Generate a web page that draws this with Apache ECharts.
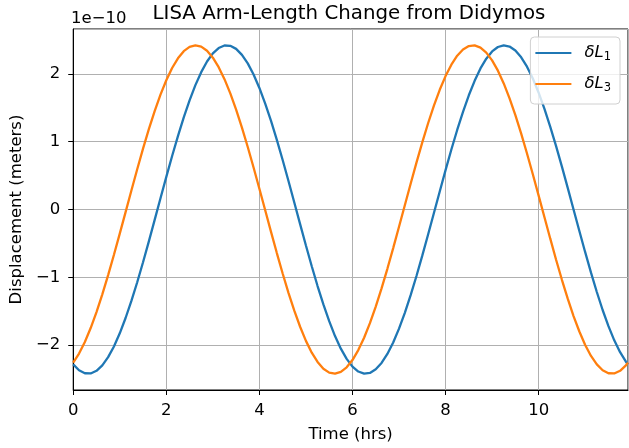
<!DOCTYPE html>
<html><head><meta charset="utf-8">
<script src="https://cdn.jsdelivr.net/npm/echarts@6/dist/echarts.min.js"></script>
<style>html,body{margin:0;padding:0;background:#fff}#c{width:629px;height:448px}</style>
</head><body><div id="c"></div>
<script>
// time in hours
const times = [0,0.125,0.25,0.375,0.5,0.625,0.75,0.875,1,1.125,1.25,1.375,1.5,1.625,1.75,1.875,2,2.125,2.25,2.375,2.5,2.625,2.75,2.875,3,3.125,3.25,3.375,3.5,3.625,3.75,3.875,4,4.125,4.25,4.375,4.5,4.625,4.75,4.875,5,5.125,5.25,5.375,5.5,5.625,5.75,5.875,6,6.125,6.25,6.375,6.5,6.625,6.75,6.875,7,7.125,7.25,7.375,7.5,7.625,7.75,7.875,8,8.125,8.25,8.375,8.5,8.625,8.75,8.875,9,9.125,9.25,9.375,9.5,9.625,9.75,9.875,10,10.125,10.25,10.375,10.5,10.625,10.75,10.875,11,11.125,11.25,11.375,11.5,11.625,11.75,11.875,11.92];
// displacement in units of 1e-10 m
const dL1 = [-2.283,-2.369,-2.413,-2.416,-2.377,-2.296,-2.176,-2.018,-1.825,-1.599,-1.347,-1.072,-0.777,-0.469,-0.153,0.165,0.481,0.788,1.082,1.358,1.609,1.833,2.024,2.181,2.300,2.379,2.417,2.412,2.367,2.279,2.153,1.989,1.791,1.561,1.305,1.026,0.729,0.419,0.103,-0.216,-0.531,-0.836,-1.128,-1.399,-1.646,-1.865,-2.051,-2.202,-2.315,-2.388,-2.419,-2.408,-2.355,-2.262,-2.129,-1.960,-1.756,-1.522,-1.262,-0.980,-0.680,-0.369,-0.052,0.266,0.580,0.884,1.172,1.440,1.683,1.896,2.079,2.223,2.329,2.395,2.420,2.402,2.343,2.243,2.105,1.930,1.721,1.483,1.218,0.933,0.632,0.319,0.001,-0.317,-0.629,-0.931,-1.216,-1.481,-1.719,-1.928,-2.103,-2.243,-2.283];
const dL3 = [-2.257,-2.123,-1.952,-1.747,-1.512,-1.250,-0.967,-0.667,-0.356,-0.038,0.280,0.593,0.897,1.184,1.451,1.693,1.905,2.085,2.228,2.333,2.397,2.420,2.401,2.340,2.238,2.098,1.921,1.711,1.473,1.207,0.921,0.619,0.306,-0.012,-0.330,-0.642,-0.943,-1.228,-1.491,-1.728,-1.936,-2.110,-2.247,-2.346,-2.404,-2.420,-2.394,-2.326,-2.219,-2.072,-1.890,-1.675,-1.431,-1.162,-0.874,-0.569,-0.255,0.063,0.380,0.691,0.990,1.271,1.531,1.764,1.966,2.134,2.266,2.358,2.409,2.418,2.386,2.312,2.198,2.046,1.858,1.638,1.390,1.118,0.826,0.520,0.205,-0.114,-0.430,-0.740,-1.036,-1.314,-1.570,-1.798,-1.996,-2.158,-2.283,-2.369,-2.413,-2.416,-2.377,-2.296,-2.257];
const xTicks = [0,2,4,6,8,10];
const yTicks = [-2,-1,0,1,2];

const FONT = 'DejaVu Sans';
const chart = echarts.init(document.getElementById('c'), null, {renderer:'canvas'});
const fmt = v => (v < 0 ? '\u2212' + Math.abs(v) : String(v));
chart.setOption({
  animation: false,
  backgroundColor: '#fff',
  title: {
    text: 'LISA Arm-Length Change from Didymos',
    left: 349, top: 4, padding: 0, textAlign: 'center',
    textStyle: {fontFamily: FONT, fontSize: 19.8, fontWeight: 'normal', color: '#000'}
  },
  graphic: [{
    type: 'text', left: 71, top: 10,
    style: {text: '1e\u221210', font: '16.5px "DejaVu Sans"', fill: '#000'}
  }],
  legend: {
    orient: 'vertical', right: 9, top: 37,
    icon: 'rect', itemWidth: 36, itemHeight: 2, itemGap: 12,
    padding: [7, 9, 10, 5],
    backgroundColor: 'rgba(255,255,255,0.8)', borderColor: '#d0d0d0', borderWidth: 1, borderRadius: 4,
    formatter: name => name === 'dL1' ? '{a|δL}{b|1}' : '{a|δL}{b|3}',
    textStyle: {
      fontFamily: FONT, color: '#000', padding: [0, 0, 0, 8],
      rich: {
        a: {fontFamily: FONT, fontStyle: 'italic', fontSize: 16.5, lineHeight: 20, color: '#000'},
        b: {fontFamily: FONT, fontSize: 11.5, lineHeight: 20, color: '#000', verticalAlign: 'bottom', padding: [7, 0, 0, 0]}
      }
    },
    data: ['dL1', 'dL3']
  },
  grid: {left: 71, right: 1, top: 29, bottom: 57, show: true, borderColor: '#000', borderWidth: 1, containLabel: false},
  xAxis: {
    type: 'value', min: 0, max: 11.92, interval: 2,
    name: 'Time (hrs)', nameLocation: 'middle', nameGap: 36,
    nameTextStyle: {fontFamily: FONT, fontSize: 16.5, color: '#000'},
    axisLine: {show: true, onZero: false, lineStyle: {color: '#000', width: 1}},
    axisTick: {show: true, inside: false, length: 5, lineStyle: {color: '#000'}},
    axisLabel: {fontFamily: FONT, fontSize: 16.5, color: '#000', margin: 12, showMaxLabel: false,
      formatter: v => xTicks.includes(v) ? fmt(v) : ''},
    splitLine: {show: true, lineStyle: {color: '#b0b0b0', width: 1}}
  },
  yAxis: {
    type: 'value', min: -2.66, max: 2.66, splitNumber: 5,
    name: 'Displacement (meters)', nameLocation: 'middle', nameGap: 48,
    nameTextStyle: {fontFamily: FONT, fontSize: 16.5, color: '#000'},
    axisLine: {show: true, onZero: false, lineStyle: {color: '#000', width: 1}},
    axisTick: {show: true, inside: false, length: 5, lineStyle: {color: '#000'}},
    axisLabel: {fontFamily: FONT, fontSize: 16.5, color: '#000', margin: 13, showMinLabel: false, showMaxLabel: false,
      formatter: v => yTicks.includes(v) ? fmt(v) : ''},
    splitLine: {show: true, lineStyle: {color: '#b0b0b0', width: 1}}
  },
  series: [
    {name: 'dL1', type: 'line', data: times.map((t, i) => [t, dL1[i]]), smooth: false, showSymbol: false,
     lineStyle: {color: '#1f77b4', width: 2.3}, itemStyle: {color: '#1f77b4'}, clip: true},
    {name: 'dL3', type: 'line', data: times.map((t, i) => [t, dL3[i]]), smooth: false, showSymbol: false,
     lineStyle: {color: '#ff7f0e', width: 2.3}, itemStyle: {color: '#ff7f0e'}, clip: true}
  ]
});
</script></body></html>
